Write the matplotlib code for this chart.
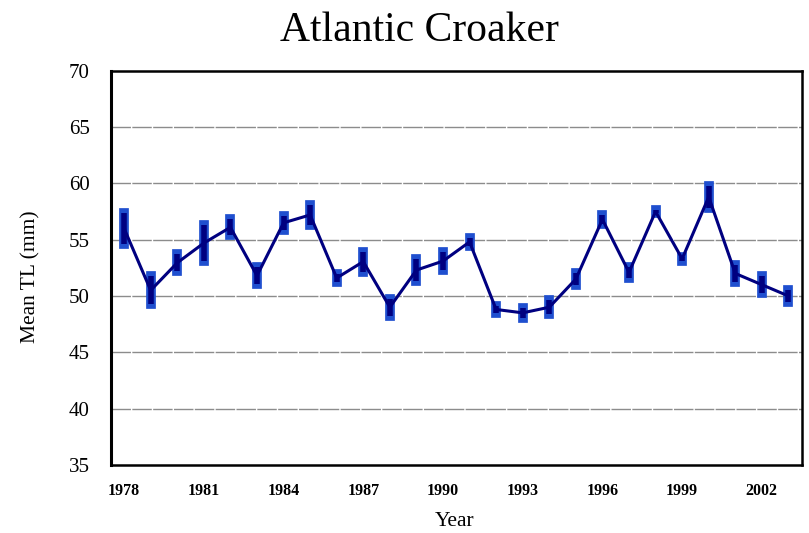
import numpy as np
import matplotlib
matplotlib.use("Agg")
import matplotlib.pyplot as plt

years = list(range(1978, 2004))
mean_tl = [56.0, 50.5, 52.95, 54.7, 56.1, 51.8, 56.5, 57.2, 51.6, 53.05,
           49.0, 52.3, 53.1, 54.8, 48.8, 48.5, 49.0, 51.5, 56.8, 52.1,
           57.5, 53.3, 58.8, 52.0, 51.0, 50.0]
err = [1.4, 1.25, 0.75, 1.6, 0.7, 0.75, 0.65, 0.85, 0.35, 0.9,
       0.75, 1.0, 0.8, 0.35, 0.3, 0.45, 0.6, 0.5, 0.4, 0.5,
       0.15, 0.15, 1.0, 0.75, 0.75, 0.55]
tick_years = [1978, 1981, 1984, 1987, 1990, 1993, 1996, 1999, 2002]

plt.rcParams['font.family'] = ['Liberation Serif', 'DejaVu Serif']

fig = plt.figure(figsize=(8.09, 5.33), dpi=100)
ax = fig.add_axes([0.137, 0.128, 0.854, 0.739])

yrs = np.array(years)
m = np.array(mean_tl)
e = np.array(err)

# error bars: blue outline with navy core
outer = ax.vlines(yrs, m - e, m + e, colors='#1f4fcf', linewidth=7.0, zorder=3)
outer.set_capstyle('projecting')
inner = ax.vlines(yrs, m - e, m + e, colors='#000080', linewidth=4.0, zorder=4)
inner.set_capstyle('butt')

ax.plot(yrs, m, color='#000080', linewidth=2.2, zorder=5)

ax.set_xlim(1977.5, 2003.5)
ax.set_ylim(35, 70)
ax.set_yticks(range(35, 71, 5))
ax.set_xticks(tick_years)
ax.set_xticklabels([str(t) for t in tick_years], fontweight='bold', fontsize=11.5)
ax.tick_params(axis='y', labelsize=15, length=0, pad=15)
ax.tick_params(axis='x', length=0, pad=13)

for yv in range(40, 70, 5):
    ax.axhline(yv, color='#8c8c8c', linewidth=1.0, linestyle=(0, (14, 1)), zorder=1)

for s in ax.spines.values():
    s.set_linewidth(1.8)
    s.set_color('black')
ax.spines['left'].set_linewidth(2.2)

fig.text(419 / 809, 1 - 31 / 533, 'Atlantic Croaker', fontsize=30,
         ha='center', va='center')
fig.text(455 / 809, 1 - 521 / 533, 'Year', fontsize=15.5, ha='center', va='center')
fig.text(31 / 809, 1 - 277 / 533, 'Mean TL (mm)', fontsize=15.5, rotation=90,
         ha='center', va='center')

fig.savefig('out.png', dpi=100)
